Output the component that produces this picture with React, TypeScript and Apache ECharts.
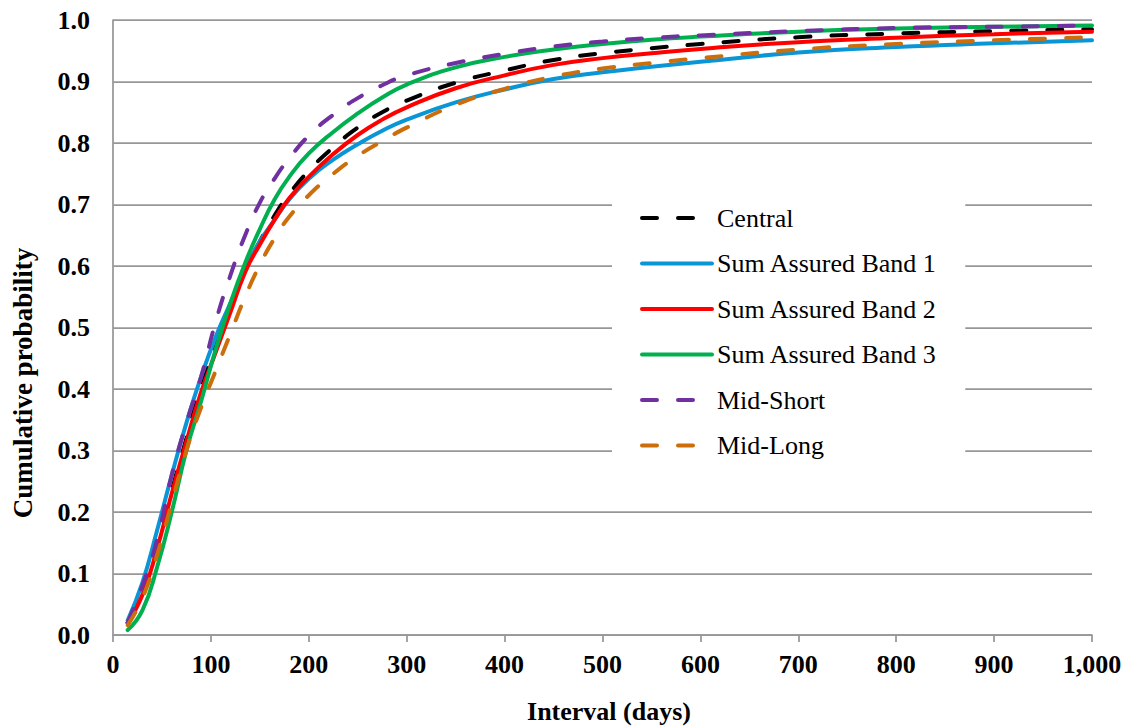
import React, { useEffect, useRef } from "react";
import * as echarts from "echarts";

// Interval in days at which each cumulative probability is given
const intervals = [
  15, 30, 45, 60, 75, 90, 105, 120, 135, 150, 165, 180, 200, 225, 250, 275,
  300, 350, 400, 450, 500, 550, 600, 700, 800, 900, 1000,
];

const central = [
  0.02, 0.07, 0.145, 0.235, 0.32, 0.405, 0.47, 0.535, 0.595, 0.64, 0.682,
  0.717, 0.755, 0.793, 0.825, 0.85, 0.869, 0.898, 0.918, 0.935, 0.946, 0.954,
  0.961, 0.972, 0.978, 0.982, 0.985,
];
const band1 = [
  0.024, 0.085, 0.17, 0.26, 0.345, 0.42, 0.485, 0.54, 0.595, 0.64, 0.675,
  0.708, 0.742, 0.773, 0.798, 0.82, 0.838, 0.866, 0.887, 0.904, 0.915, 0.924,
  0.932, 0.947, 0.956, 0.962, 0.967,
];
const band2 = [
  0.02, 0.065, 0.14, 0.23, 0.315, 0.395, 0.46, 0.525, 0.59, 0.635, 0.675,
  0.71, 0.745, 0.782, 0.813, 0.838, 0.858, 0.889, 0.91, 0.927, 0.938, 0.946,
  0.953, 0.964, 0.971, 0.977, 0.981,
];
const band3 = [
  0.008, 0.04, 0.11, 0.2, 0.3, 0.38, 0.465, 0.54, 0.605, 0.66, 0.708, 0.745,
  0.783, 0.818, 0.848, 0.874, 0.895, 0.923, 0.94, 0.952, 0.961, 0.968, 0.973,
  0.981, 0.986, 0.989, 0.991,
];
const midShort = [
  0.02, 0.08, 0.155, 0.26, 0.345, 0.42, 0.51, 0.585, 0.65, 0.703, 0.742,
  0.775, 0.812, 0.846, 0.873, 0.894, 0.91, 0.93, 0.945, 0.957, 0.965, 0.971,
  0.975, 0.982, 0.987, 0.989, 0.991,
];
const midLong = [
  0.016, 0.06, 0.13, 0.215, 0.3, 0.37, 0.43, 0.49, 0.55, 0.602, 0.645, 0.68,
  0.715, 0.75, 0.779, 0.803, 0.825, 0.862, 0.888, 0.908, 0.921, 0.93, 0.938,
  0.952, 0.961, 0.967, 0.972,
];

const seriesDefs = [
  { name: "Central", values: central, color: "#000000", dashed: true },
  { name: "Sum Assured Band 1", values: band1, color: "#0a96d6", dashed: false },
  { name: "Sum Assured Band 2", values: band2, color: "#ff0000", dashed: false },
  { name: "Sum Assured Band 3", values: band3, color: "#00b050", dashed: false },
  { name: "Mid-Short", values: midShort, color: "#7030a0", dashed: true },
  { name: "Mid-Long", values: midLong, color: "#cc6e0c", dashed: true },
];

const FONT = "'Liberation Serif', 'Times New Roman', serif";
const GRID_GRAY = "#979797";

export default function App() {
  const ref = useRef<HTMLDivElement>(null);

  useEffect(() => {
    if (!ref.current) return;
    const chart = echarts.init(ref.current, undefined, { renderer: "svg" });

    const series = seriesDefs.map((s) => ({
      name: s.name,
      type: "line",
      data: intervals.map((x, i) => [x, s.values[i]]),
      smooth: 0.5,
      symbol: "none",
      showSymbol: false,
      lineStyle: {
        color: s.color,
        width: 4,
        type: s.dashed ? [15, 21] : "solid",
        cap: "round",
      },
      itemStyle: { color: s.color },
    }));

    chart.setOption({
      animation: false,
      backgroundColor: "#ffffff",
      grid: { left: 113, right: 40, top: 20, bottom: 92, containLabel: false },
      xAxis: {
        type: "value",
        min: 0,
        max: 1000,
        interval: 100,
        axisLine: { show: true, lineStyle: { color: GRID_GRAY, width: 1.75 } },
        axisTick: {
          show: true,
          length: 7,
          inside: false,
          lineStyle: { color: GRID_GRAY, width: 1.75 },
        },
        splitLine: { show: false },
        axisLabel: {
          margin: 16,
          color: "#000",
          fontFamily: FONT,
          fontWeight: "bold",
          fontSize: 26,
          formatter: (v: number) => v.toLocaleString("en-US"),
        },
      },
      yAxis: {
        type: "value",
        min: 0,
        max: 1,
        interval: 0.1,
        axisLine: { show: true, lineStyle: { color: GRID_GRAY, width: 1.75 } },
        axisTick: { show: false },
        splitLine: { show: true, lineStyle: { color: GRID_GRAY, width: 1.75 } },
        axisLabel: {
          margin: 23,
          color: "#000",
          fontFamily: FONT,
          fontWeight: "bold",
          fontSize: 26,
          formatter: (v: number) => v.toFixed(1),
        },
      },
      legend: {
        orient: "vertical",
        left: 612,
        top: 193,
        padding: [12, 28, 12, 28],
        backgroundColor: "#ffffff",
        itemWidth: 70,
        itemHeight: 14,
        itemGap: 19.5,
        itemStyle: { opacity: 0, borderWidth: 0 },
        lineStyle: { width: 4, cap: "round" },
        textStyle: {
          fontFamily: FONT,
          fontSize: 26,
          lineHeight: 26,
          color: "#000",
        },
        data: seriesDefs.map((s) => s.name),
      },
      graphic: [
        {
          type: "text",
          x: 609,
          y: 711,
          style: {
            text: "Interval (days)",
            fontFamily: FONT,
            fontWeight: "bold",
            fontSize: 26,
            fill: "#000",
            textAlign: "center",
            textVerticalAlign: "middle",
          },
        },
        {
          type: "text",
          x: 23,
          y: 383,
          rotation: Math.PI / 2,
          style: {
            text: "Cumulative probability",
            fontFamily: FONT,
            fontWeight: "bold",
            fontSize: 27,
            fill: "#000",
            textAlign: "center",
            textVerticalAlign: "middle",
          },
        },
      ],
      series,
    });

    return () => chart.dispose();
  }, []);

  return (
    <div
      ref={ref}
      style={{ position: "absolute", left: 0, top: 0, width: 1132, height: 727 }}
    />
  );
}
